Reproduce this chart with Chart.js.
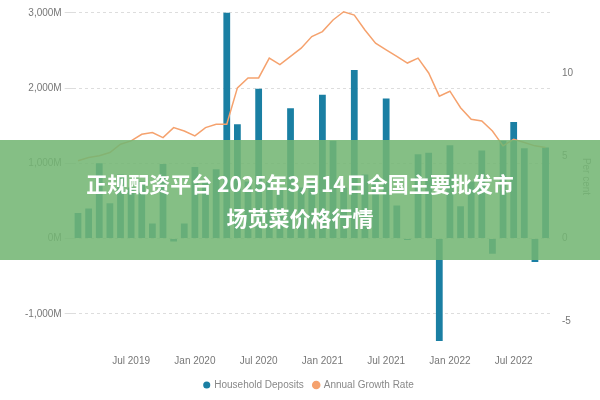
<!DOCTYPE html>
<html><head><meta charset="utf-8">
<script src="https://cdn.jsdelivr.net/npm/chart.js@4"></script>
<style>
body{margin:0;background:#fff;font-family:"Noto Sans CJK SC","Noto Sans",sans-serif}
#wrap{position:relative;width:600px;height:400px}
#band{position:absolute;left:0;top:140px;width:600px;height:120px;background:rgba(115,182,115,0.87);display:flex;align-items:center;justify-content:center;text-align:center;color:#fff;font-weight:bold;font-size:21px;line-height:34px;box-sizing:border-box}
</style></head><body>
<div id="wrap"><canvas id="c" width="600" height="400"></canvas>
<div id="band"><div>正规配资平台 2025年3月14日全国主要批发市<br>场苋菜价格行情</div></div></div>
<script>
const months=["Jan","Feb","Mar","Apr","May","Jun","Jul","Aug","Sep","Oct","Nov","Dec"];
const categories=[];
for(let i=0;i<45;i++){const m=(1+i)%12;const y=2019+Math.floor((1+i)/12);categories.push(months[m]+" "+y);}
const deposits=[340,400,1000,470,850,680,760,200,990,-40,200,950,760,920,3000,1520,760,1990,760,680,1730,680,760,1910,1300,680,2240,850,800,1860,440,-20,1120,1140,-1360,1240,430,760,1170,-200,1300,1550,1200,-310,1210];
const growth=[4.7,4.9,5.0,5.2,5.7,5.9,6.3,6.4,6.1,6.7,6.5,6.2,6.7,6.9,6.9,9.1,9.7,9.7,10.9,10.5,11.0,11.5,12.2,12.5,13.2,13.7,13.5,12.6,11.8,11.4,11.0,10.6,10.9,10.0,8.6,8.9,7.9,7.2,7.1,6.5,5.6,6.0,5.8,5.6,5.5];
const leftTicks=[-1000,0,1000,2000,3000];
const leftLabels={"-1000":"-1,000M","0":"0M","1000":"1,000M","2000":"2,000M","3000":"3,000M"};
const rightTicks=[-5,0,5,10];
new Chart(document.getElementById('c'),{
 data:{labels:categories,datasets:[
  {type:'line',label:'Annual Growth Rate',data:growth,yAxisID:'y1',borderColor:'#f5a26e',backgroundColor:'#f5a26e',borderWidth:1.5,pointRadius:0,tension:0},
  {type:'bar',label:'Household Deposits',data:deposits,yAxisID:'y',backgroundColor:'#1a7fa3',categoryPercentage:0.85,barPercentage:0.75}
 ]},
 options:{responsive:false,animation:false,
  layout:{padding:{top:8,right:4,left:22}},
  plugins:{legend:{position:'bottom',reverse:true,labels:{usePointStyle:true,pointStyle:'circle',boxWidth:5,boxHeight:5,color:'#888',font:{size:10}}}},
  scales:{
   x:{grid:{display:false},border:{display:false},ticks:{autoSkip:false,maxRotation:0,color:'#777',font:{size:10},callback:function(v,i){const l=categories[i];return (l.startsWith('Jan')||l.startsWith('Jul'))?l:'';}}},
   y:{position:'left',min:-1400,max:3050,afterBuildTicks:a=>{a.ticks=leftTicks.map(v=>({value:v}));},grid:{color:'#ddd'},border:{display:false,dash:[3,3]},ticks:{color:'#777',font:{size:10},callback:v=>leftLabels[String(v)]}},
   y1:{position:'right',min:-1400/220,max:3050/220,afterBuildTicks:a=>{a.ticks=rightTicks.map(v=>({value:v}));},grid:{display:false},border:{display:false},ticks:{color:'#777',font:{size:10}},title:{display:true,text:'Per cent',color:'#888',font:{size:10}}}
  }}
});
</script></body></html>
